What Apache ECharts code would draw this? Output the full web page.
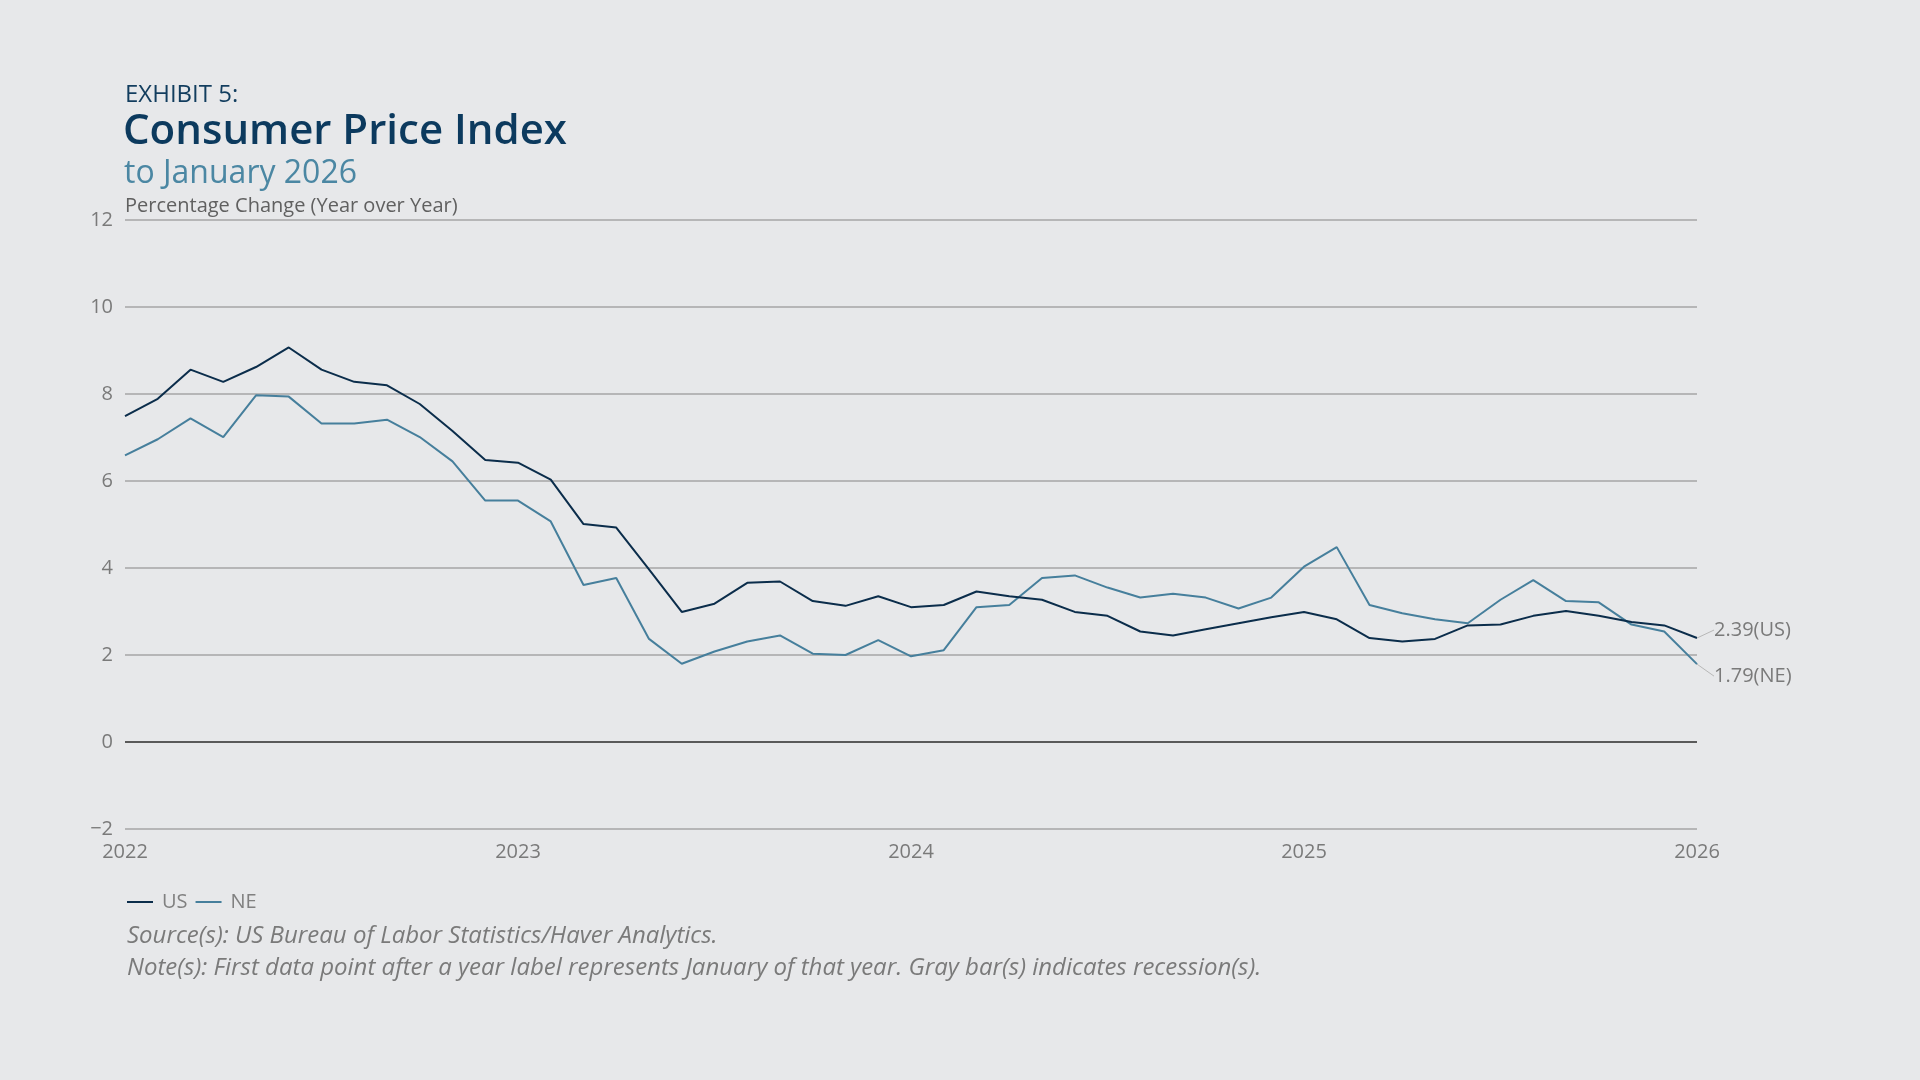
<!DOCTYPE html>
<html>
<head>
<meta charset="utf-8">
<script src="https://cdn.jsdelivr.net/npm/echarts@6/dist/echarts.min.js"></script>
<style>
html,body{margin:0;padding:0;background:#e7e8ea;}
#chart{width:1920px;height:1080px;}
</style>
</head>
<body>
<div id="chart"></div>
<script>
// Monthly observations, Jan 2022 .. Jan 2026
const months = [];
for (let y = 2022; y <= 2026; y++) {
  for (let m = 1; m <= 12; m++) {
    if (y === 2026 && m > 1) break;
    months.push(y + '-' + String(m).padStart(2, '0'));
  }
}
const usValues = [
  7.49, 7.89, 8.56, 8.28, 8.62, 9.07, 8.56, 8.28, 8.20, 7.77, 7.15, 6.48,
  6.42, 6.03, 5.01, 4.93, 3.97, 2.99, 3.18, 3.66, 3.69, 3.24, 3.13, 3.35,
  3.10, 3.15, 3.46, 3.35, 3.27, 2.99, 2.90, 2.54, 2.45, 2.59, 2.73, 2.87,
  2.99, 2.82, 2.39, 2.31, 2.37, 2.68, 2.70, 2.90, 3.01, 2.90, 2.76, 2.68,
  2.39
];
const neValues = [
  6.59, 6.96, 7.44, 7.01, 7.97, 7.94, 7.32, 7.32, 7.41, 7.01, 6.45, 5.55,
  5.55, 5.07, 3.61, 3.77, 2.37, 1.80, 2.08, 2.31, 2.45, 2.03, 2.00, 2.34,
  1.97, 2.11, 3.10, 3.15, 3.77, 3.83, 3.55, 3.32, 3.41, 3.32, 3.07, 3.32,
  4.03, 4.48, 3.15, 2.96, 2.82, 2.73, 3.27, 3.72, 3.24, 3.21, 2.70, 2.54,
  1.79
];
const seriesNames = ['US', 'NE'];
const yTicks = { min: -2, max: 12, interval: 2 };

const FONT = 'Open Sans';
const chart = echarts.init(document.getElementById('chart'));

function withEndLabel(values) {
  return values.map((v, i) => i === values.length - 1 ? { value: v, label: { show: true } } : v);
}

const option = {
  backgroundColor: '#e7e8ea',
  animation: false,
  textStyle: { fontFamily: FONT },
  title: [
    { text: 'EXHIBIT 5:', left: 120, top: 78, textStyle: { fontFamily: FONT, fontSize: 24, fontWeight: 400, color: '#123d5e' } },
    { text: 'Consumer Price Index', left: 118, top: 106, textStyle: { fontFamily: FONT, fontSize: 42, fontWeight: 600, color: '#0c3a5e' } },
    { text: 'to January 2026', left: 119, top: 153, textStyle: { fontFamily: FONT, fontSize: 32, fontWeight: 400, color: '#4b87a3' } },
    { text: 'Percentage Change (Year over Year)', left: 120, top: 191, textStyle: { fontFamily: FONT, fontSize: 20, fontWeight: 400, color: '#606060' } },
    { text: 'Source(s): US Bureau of Labor Statistics/Haver Analytics.', left: 122, top: 919, textStyle: { fontFamily: FONT, fontSize: 24, fontStyle: 'italic', fontWeight: 400, color: '#7a7a7a' } },
    { text: 'Note(s): First data point after a year label represents January of that year. Gray bar(s) indicates recession(s).', left: 122, top: 951, textStyle: { fontFamily: FONT, fontSize: 24, fontStyle: 'italic', fontWeight: 400, color: '#7a7a7a' } }
  ],
  legend: {
    left: 122, top: 887,
    itemWidth: 26, itemHeight: 2, itemGap: 8,
    icon: 'rect',
    textStyle: { fontFamily: FONT, fontSize: 20, color: '#808080', padding: [0, 0, 0, 4] },
    data: seriesNames
  },
  grid: { left: 125, right: 223, top: 220, bottom: 251, containLabel: false },
  xAxis: {
    type: 'category',
    data: months,
    boundaryGap: false,
    axisLine: { show: false },
    axisTick: { show: false },
    splitLine: { show: false },
    axisLabel: {
      interval: (idx) => idx % 12 === 0,
      formatter: (v) => v.slice(0, 4),
      margin: 13,
      fontFamily: FONT, fontSize: 20, color: '#7a7a7a'
    }
  },
  yAxis: {
    type: 'value',
    min: yTicks.min, max: yTicks.max, interval: yTicks.interval,
    axisLine: { show: false },
    axisTick: { show: false },
    splitLine: { lineStyle: { color: '#a6a6a6', width: 1.5 } },
    axisLabel: {
      margin: 12,
      formatter: (v) => String(v).replace('-', '\u2212'),
      fontFamily: FONT, fontSize: 20, color: '#7a7a7a'
    }
  },
  series: [
    {
      name: 'US', type: 'line', data: withEndLabel(usValues),
      showSymbol: true, symbol: 'circle', symbolSize: 0,
      lineStyle: { color: '#0b2d4b', width: 2 },
      itemStyle: { color: '#0b2d4b' },
      z: 3,
      label: {
        show: false, position: 'right', distance: 2,
        formatter: (p) => p.value.toFixed(2) + '(US)',
        fontFamily: FONT, fontSize: 20, color: '#7a7a7a'
      },
      labelLayout: { dx: 15, dy: -8 },
      labelLine: { show: true, lineStyle: { color: '#b8b8b8', width: 1 } },
      markLine: {
        silent: true, symbol: 'none', label: { show: false },
        lineStyle: { color: '#5a5a5a', width: 2, type: 'solid' },
        data: [{ yAxis: 0 }]
      }
    },
    {
      name: 'NE', type: 'line', data: withEndLabel(neValues),
      showSymbol: true, symbol: 'circle', symbolSize: 0,
      lineStyle: { color: '#467f9c', width: 2 },
      itemStyle: { color: '#467f9c' },
      z: 2,
      label: {
        show: false, position: 'right', distance: 2,
        formatter: (p) => p.value.toFixed(2) + '(NE)',
        fontFamily: FONT, fontSize: 20, color: '#7a7a7a'
      },
      labelLayout: { dx: 15, dy: 12 },
      labelLine: { show: true, lineStyle: { color: '#b8b8b8', width: 1 } }
    }
  ]
};
chart.setOption(option);
</script>
</body>
</html>
